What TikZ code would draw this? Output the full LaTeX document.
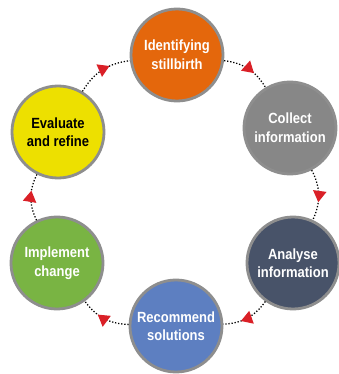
\documentclass[tikz,border=0pt]{standalone}
\usepackage{fontspec}
\setmainfont[FakeStretch=0.88]{Liberation Sans}
\usetikzlibrary{arrows.meta,decorations.markings}
\definecolor{stepgray}{HTML}{8E8E8E}
\definecolor{arrowred}{HTML}{DA2027}
\definecolor{cOrange}{HTML}{E4670C}
\definecolor{cGray}{HTML}{878787}
\definecolor{cSlate}{HTML}{485369}
\definecolor{cBlue}{HTML}{5D7FC1}
\definecolor{cGreen}{HTML}{79B443}
\definecolor{cYellow}{HTML}{EDE000}
\begin{document}
\begin{tikzpicture}[font=\fontsize{10.5}{13.2}\selectfont\bfseries,
  stage/.style={circle, draw=stepgray, line width=2pt, minimum size=2.3cm,
    inner sep=0pt, align=center, text=white},
  link/.style={dash pattern=on 0.9pt off 1.3pt, line width=0.9pt, postaction={decorate},
    decoration={markings, mark=at position 0.64 with
      {\arrow[arrowred]{Triangle[length=8pt,width=9.5pt]}}}}]
\useasboundingbox (0,0) rectangle (8.45,-9.35);
% the six stages round the cycle
\node[stage, fill=cOrange] (ident) at (4.425,-1.375) {Identifying\\stillbirth};
\node[stage, fill=cGray] (collect) at (7.25,-3.2) {Collect\\information};
\node[stage, fill=cSlate] (analyse) at (7.325,-6.575) {Analyse\\information};
\node[stage, fill=cBlue] (recommend) at (4.4,-8.15) {Recommend\\solutions};
\node[stage, fill=cGreen] (implement) at (1.425,-6.575) {Implement\\change};
\node[stage, fill=cYellow, text=black] (evaluate) at (1.45,-3.3) {Evaluate\\and refine};
% dotted arcs, clockwise
\draw[link] (ident) to[bend left=26] (collect);
\draw[link] (collect) to[bend left=26] (analyse);
\draw[link] (analyse) to[bend left=26] (recommend);
\draw[link] (recommend) to[bend left=26] (implement);
\draw[link] (implement) to[bend left=26] (evaluate);
\draw[link] (evaluate) to[bend left=26] (ident);
\end{tikzpicture}
\end{document}
